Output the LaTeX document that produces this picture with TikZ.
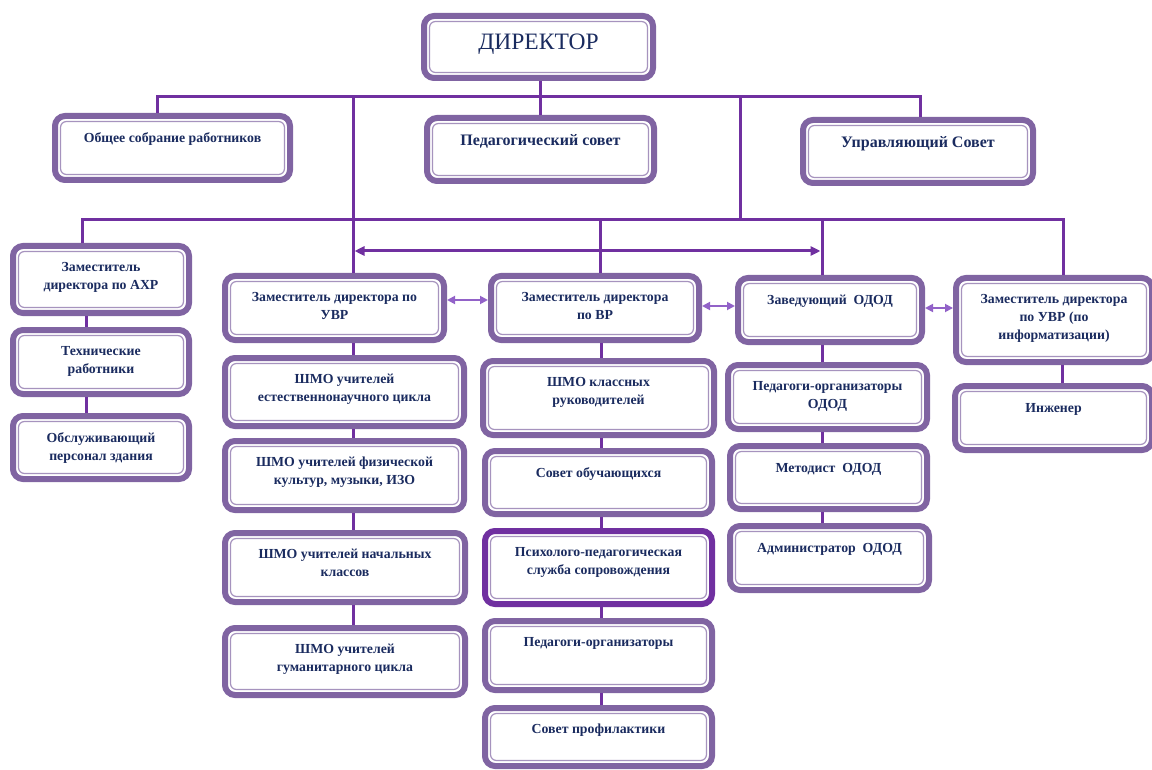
\documentclass[tikz,border=0pt]{standalone}
\usepackage{fontspec}
\setmainfont{Liberation Serif}
\usepackage{xcolor}
\usepackage{tikz}
\usetikzlibrary{arrows.meta,positioning}

\definecolor{boxc}{HTML}{8064A2}
\definecolor{linec}{HTML}{7030A0}
\definecolor{textc}{HTML}{1A2B5F}
\definecolor{arrc}{HTML}{9262C8}

\tikzset{
  box/.style={draw=boxc, line width=6pt, rounded corners=10pt, fill=white,
    outer sep=3pt, inner sep=0pt,
    path picture={\draw[boxc!70, line width=1.2pt, rounded corners=6pt]
      ([shift={(5.5pt,5.5pt)}]path picture bounding box.south west) rectangle
      ([shift={(-5.5pt,-5.5pt)}]path picture bounding box.north east);}},
  txt/.style={anchor=north, align=center, text=textc, inner sep=0pt,
    font=\fontsize{13.8}{18}\selectfont\bfseries},
  bigtxt/.style={txt, font=\fontsize{16}{18}\selectfont\bfseries},
  conn/.style={draw=linec, line width=3pt},
  bigarr/.style={conn, {Triangle[length=10pt,width=9pt]}-{Triangle[length=10pt,width=9pt]}},
  smarr/.style={draw=arrc, line width=1.8pt, {Triangle[length=8pt,width=8pt]}-{Triangle[length=8pt,width=8pt]}}
}

\begin{document}
\begin{tikzpicture}[x=1pt, y=-1pt]
        \useasboundingbox (0,0) rectangle (1152,770);

        % top
        \node[box, minimum width=229pt, minimum height=62pt] (dir) at (538.5,47) {};
        \node[text=textc, inner sep=0pt, font=\fontsize{23.5}{26}\selectfont] (dir-t) at (538.5,44) {ДИРЕКТОР};

        % first row
        \node[box, minimum width=235pt, minimum height=64pt] (obsh)   at (172.5,148) {};
        \node[box, minimum width=227pt, minimum height=63pt] (pedsov) at (540.5,149.5) {};
        \node[box, minimum width=230pt, minimum height=63pt] (upr)    at (918,151.5) {};
        \node[txt, below=19pt of obsh.north]      (obsh-t)   {Общее собрание работников};
        \node[bigtxt, below=19pt of pedsov.north] (pedsov-t) {Педагогический совет};
        \node[bigtxt, below=19pt of upr.north]    (upr-t)    {Управляющий Совет};

        % left column
        \node[box, minimum width=176pt, minimum height=67pt] (ahr)  at (101,279.5) {};
        \node[box, minimum width=176pt, minimum height=64pt] (tech) at (101,362) {};
        \node[box, minimum width=176pt, minimum height=63pt] (obsl) at (101,447.5) {};
        \node[txt, below=19pt of ahr.north]  (ahr-t)  {Заместитель\\директора по АХР};
        \node[txt, below=19pt of tech.north] (tech-t) {Технические\\работники};
        \node[txt, below=19pt of obsl.north] (obsl-t) {Обслуживающий\\персонал здания};

        % UVR column
        \node[box, minimum width=219pt, minimum height=64pt] (uvr)  at (334.5,308) {};
        \node[box, minimum width=239pt, minimum height=68pt] (estn) at (344.5,392) {};
        \node[box, minimum width=239pt, minimum height=69pt] (fizk) at (344.5,475.5) {};
        \node[box, minimum width=240pt, minimum height=69pt] (nach) at (345,567.5) {};
        \node[box, minimum width=240pt, minimum height=67pt] (gum)  at (345,661.5) {};
        \node[txt, below=19pt of uvr.north]  (uvr-t)  {Заместитель директора по\\УВР};
        \node[txt, below=19pt of estn.north] (estn-t) {ШМО учителей\\естественнонаучного цикла};
        \node[txt, below=19pt of fizk.north] (fizk-t) {ШМО учителей физической\\культур, музыки, ИЗО};
        \node[txt, below=19pt of nach.north] (nach-t) {ШМО учителей начальных\\классов};
        \node[txt, below=19pt of gum.north]  (gum-t)  {ШМО учителей\\гуманитарного цикла};

        % VR column
        \node[box, minimum width=208pt, minimum height=64pt] (vr)     at (595,308) {};
        \node[box, minimum width=231pt, minimum height=74pt] (klruk)  at (598.5,398) {};
        \node[box, minimum width=227pt, minimum height=63pt] (sovob)  at (598.5,482.5) {};
        \node[box, draw=linec, minimum width=227pt, minimum height=73pt] (psy) at (598.5,567.5) {};
        \node[box, minimum width=227pt, minimum height=69pt] (pedorg) at (598.5,655.5) {};
        \node[box, minimum width=227pt, minimum height=58pt] (prof)   at (598.5,737) {};
        \node[txt, below=19pt of vr.north]     (vr-t)     {Заместитель директора\\по ВР};
        \node[txt, below=19pt of klruk.north]  (klruk-t)  {ШМО классных\\руководителей};
        \node[txt, below=19pt of sovob.north]  (sovob-t)  {Совет обучающихся};
        \node[txt, below=19pt of psy.north]    (psy-t)    {Психолого-педагогическая\\служба сопровождения};
        \node[txt, below=19pt of pedorg.north] (pedorg-t) {Педагоги-организаторы};
        \node[txt, below=19pt of prof.north]   (prof-t)   {Совет профилактики};

        % ODOD column
        \node[box, minimum width=184pt, minimum height=64pt] (odod)    at (830,310) {};
        \node[box, minimum width=199pt, minimum height=64pt] (pedodod) at (827.5,397) {};
        \node[box, minimum width=197pt, minimum height=63pt] (metod)   at (828.5,477.5) {};
        \node[box, minimum width=199pt, minimum height=64pt] (admin)   at (829.5,558) {};
        \node[txt, below=20pt of odod.north]    (odod-t)    {Заведующий\enspace ОДОД};
        \node[txt, below=19pt of pedodod.north] (pedodod-t) {Педагоги-организаторы\\ОДОД};
        \node[txt, below=20pt of metod.north]   (metod-t)   {Методист\enspace ОДОД};
        \node[txt, below=20pt of admin.north]   (admin-t)   {Администратор\enspace ОДОД};

        % right column
        \node[box, minimum width=196pt, minimum height=84pt] (inf) at (1054,320) {};
        \node[box, minimum width=197pt, minimum height=64pt] (ing) at (1053.5,418) {};
        \node[txt, below=19pt of inf.north] (inf-t) {Заместитель директора\\по УВР (по\\информатизации)};
        \node[txt, below=20pt of ing.north] (ing-t) {Инженер};

        % buses
        \coordinate (b1w) at (157,97);
        \coordinate (b1e) at (920,97);
        \coordinate (b1u) at (353,97);
        \coordinate (b1m) at (740,97);
        \coordinate (b2w) at (82,220);
        \coordinate (b2e) at (1063,220);
        \coordinate (b2m) at (740,220);
        \coordinate (b2v) at (600,220);
        \coordinate (b2o) at (822,220);

        \draw[conn] (dir.south -| pedsov.north) -- (pedsov.north);
        \draw[conn] (obsh.north -| b1w) -- (b1w) -- (b1e) -- (upr.north -| b1e);
        \draw[conn] (b1u) -- (uvr.north -| b1u);
        \draw[conn] (b1m) -- (b2m);
        \draw[conn] (ahr.north -| b2w) -- (b2w) -- (b2e) -- (inf.north -| b2e);
        \draw[conn] (b2v) -- (vr.north -| b2v);
        \draw[conn] (b2o) -- (odod.north -| b2o);

        % arrow between the deputies
        \coordinate (arrl) at (354.5,251);
        \coordinate (arrr) at (820.5,251);
        \draw[bigarr] (arrl) -- (arrr);

        % small arrows
        \draw[smarr] ([yshift=8pt]uvr.east) -- ([yshift=8pt]uvr.east -| vr.west);
        \draw[smarr] ([yshift=2pt]vr.east) -- ([yshift=2pt]vr.east -| odod.west);
        \draw[smarr] ([yshift=2pt]odod.east) -- ([yshift=2pt]odod.east -| inf.west);

        % columns
        \coordinate (cl) at (86,0);
        \coordinate (cu) at (353,0);
        \coordinate (cv) at (601,0);
        \coordinate (co) at (822,0);
        \coordinate (ci) at (1062,0);

        \draw[conn] (ahr.south -| cl)  -- (tech.north -| cl);
        \draw[conn] (tech.south -| cl) -- (obsl.north -| cl);

        \draw[conn] (uvr.south -| cu)  -- (estn.north -| cu);
        \draw[conn] (estn.south -| cu) -- (fizk.north -| cu);
        \draw[conn] (fizk.south -| cu) -- (nach.north -| cu);
        \draw[conn] (nach.south -| cu) -- (gum.north -| cu);

        \draw[conn] (vr.south -| cv)     -- (klruk.north -| cv);
        \draw[conn] (klruk.south -| cv)  -- (sovob.north -| cv);
        \draw[conn] (sovob.south -| cv)  -- (psy.north -| cv);
        \draw[conn] (psy.south -| cv)    -- (pedorg.north -| cv);
        \draw[conn] (pedorg.south -| cv) -- (prof.north -| cv);

        \draw[conn] (odod.south -| co)    -- (pedodod.north -| co);
        \draw[conn] (pedodod.south -| co) -- (metod.north -| co);
        \draw[conn] (metod.south -| co)   -- (admin.north -| co);

        \draw[conn] (inf.south -| ci) -- (ing.north -| ci);
\end{tikzpicture}
\end{document}
